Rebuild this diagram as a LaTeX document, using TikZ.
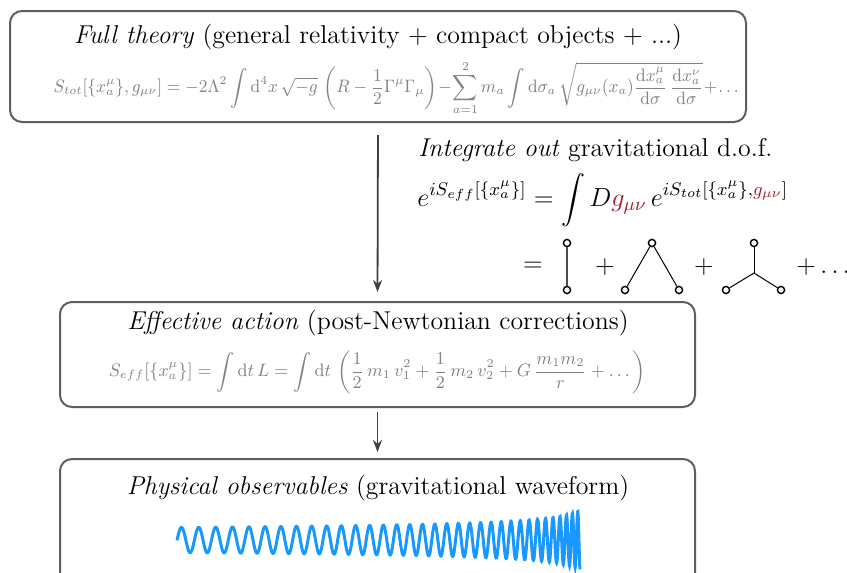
\RequirePackage{fix-cm}
\documentclass[tikz,border=0pt]{standalone}
\usepackage{amsmath}
\usepackage{graphicx}
\usetikzlibrary{arrows.meta}
\definecolor{boxgray}{RGB}{95,95,95}
\definecolor{formgray}{RGB}{130,130,130}
\definecolor{gred}{RGB}{165,20,40}
\definecolor{wavecol}{RGB}{25,152,255}
\begin{document}
\begin{tikzpicture}[x=0.5pt,y=-0.5pt,
  box/.style={draw=boxgray, line width=1pt, rounded corners=6pt, inner sep=0pt},
  ttl/.style={inner sep=0pt, font=\fontsize{12.9}{15}\selectfont},
  frm/.style={inner sep=0pt, text=formgray, font=\small},
  arr/.style={draw=black!75, line width=0.9pt, -{Stealth[length=6pt,width=4.5pt]}},
  vtx/.style={circle, draw=black, line width=0.7pt, minimum size=3.6pt, inner sep=0pt, fill=white},
  edge/.style={draw=black, line width=0.5pt},
  wavestyle/.style={draw=wavecol, line width=1.5pt}]
\clip (0,0) rectangle (847,573);

% boxes
\node[box, minimum width=368pt, minimum height=55.5pt] (box1) at (378,66.5) {};
\node[box, minimum width=317.5pt, minimum height=52.5pt] (box2) at (377.5,354.5) {};
\node[box, minimum width=317.5pt, minimum height=70pt] (box3) at (377.5,529) {};

% box 1 texts
\node[ttl] (t1) at (378,37) {\textit{Full theory} (general relativity + compact objects + ...)};
\node[frm] (f1) at (397.5,88) {\scalebox{0.94}[1]{$\displaystyle S_{tot}[\{x_a^\mu\},g_{\mu\nu}] = -2\Lambda^2\int\mathrm{d}^4x\,\sqrt{-g}\,\left(R-\frac{1}{2}\Gamma^\mu\Gamma_\mu\right)\!-\!\sum_{a=1}^{2} m_a\int\mathrm{d}\sigma_a\,\sqrt{g_{\mu\nu}(x_a)\frac{\mathrm{d}x_a^\mu}{\mathrm{d}\sigma}\,\frac{\mathrm{d}x_a^\nu}{\mathrm{d}\sigma}}\!+\!\dots$}};

% integrate out
\node[ttl, anchor=west] (io) at (418,150) {\textit{Integrate out} gravitational d.o.f.};
\node[ttl, anchor=west, font=\fontsize{13.1}{15}\selectfont] (eq) at (417,200) {$\displaystyle e^{iS_{eff}[\{x_a^\mu\}]} = \int D{\color{gred}g_{\mu\nu}}\,e^{iS_{tot}[\{x_a^\mu\},{\color{gred}g_{\mu\nu}}]}$};

% diagrams
\node[ttl] (eqs) at (533,267) {$=$};
\node[vtx] (d1a) at (567,243) {};
\node[vtx] (d1b) at (567,290) {};
\draw[edge, draw=black!70, line width=0.8pt] (d1a) -- (d1b);
\node[ttl] (p1) at (605,267) {$+$};
\node[vtx] (d2a) at (652,243) {};
\node[vtx] (d2b) at (625,290) {};
\node[vtx] (d2c) at (679,290) {};
\draw[edge] (d2b) -- (d2a) -- (d2c);
\node[ttl] (p2) at (704,267) {$+$};
\node[vtx] (d3a) at (754,243) {};
\coordinate (d3c) at (754,273);
\node[vtx] (d3b) at (726,290) {};
\node[vtx] (d3d) at (781,290) {};
\draw[edge] (d3a) -- (d3c);
\draw[edge] (d3b) -- (d3c) -- (d3d);
\node[ttl, anchor=west] (p3) at (796,267) {$+\dots$};

% box 2 texts
\node[ttl] (t2) at (378,323) {\textit{Effective action} (post-Newtonian corrections)};
\node[frm] (f2) at (377.5,372) {\scalebox{0.975}[1]{$\displaystyle S_{eff}[\{x_a^\mu\}] = \int\mathrm{d}t\,L = \int\mathrm{d}t\,\left(\frac{1}{2}\,m_1\,v_1^2+\frac{1}{2}\,m_2\,v_2^2+G\,\frac{m_1m_2}{r}+\dots\right)$}};

% box 3 texts
\node[ttl] (t3) at (378,488) {\textit{Physical observables} (gravitational waveform)};
\draw[wavestyle] plot[domain=0:403, samples=1500]
  ({177+\x}, {540 - 12.5*pow(415.6/(415.6-\x),0.25)*sin(315.8*(43.31 - pow(415.6-\x,0.625)))});

% arrows
\draw[arr, shorten <=6pt, shorten >=4.5pt] (box1.south) -- (box2.north);
\draw[arr, shorten <=2pt, shorten >=3pt] (box2.south) -- (box3.north);
\end{tikzpicture}
\end{document}
